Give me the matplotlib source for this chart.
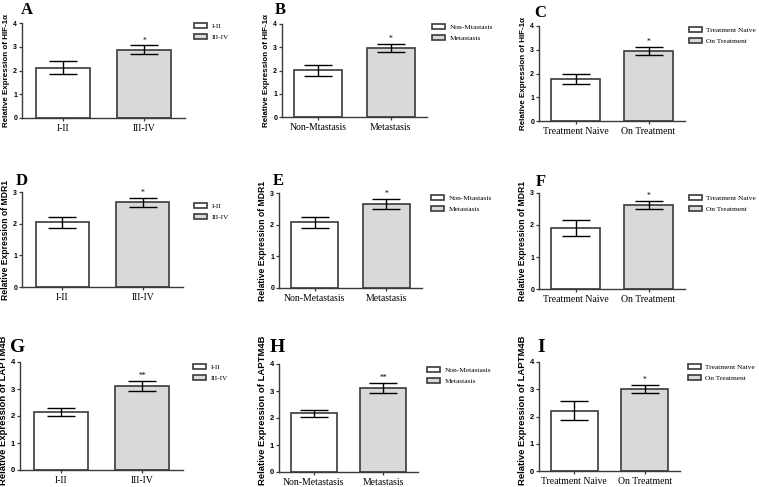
import matplotlib.pyplot as plt

W, H = 759, 487

letters = ["A", "B", "C", "D", "E", "F", "G", "H", "I"]
genes = ["HIF-1\u03b1", "HIF-1\u03b1", "HIF-1\u03b1",
         "MDR1", "MDR1", "MDR1",
         "LAPTM4B", "LAPTM4B", "LAPTM4B"]
xlabels = [["I-II", "III-IV"], ["Non-Mtastasis", "Metastasis"], ["Treatment Naive", "On Treatment"],
           ["I-II", "III-IV"], ["Non-Metastasis", "Metastasis"], ["Treatment Naive", "On Treatment"],
           ["I-II", "III-IV"], ["Non-Metastasis", "Metastasis"], ["Treatment Naive", "On Treatment"]]
leglabels = [["I-II", "III-IV"], ["Non-Mtastasis", "Metastasis"], ["Treatment Naive", "On Treatment"],
             ["I-II", "III-IV"], ["Non-Mtastasis", "Metastasis"], ["Treatment Naive", "On Treatment"],
             ["I-II", "III-IV"], ["Non-Metastasis", "Metastasis"], ["Treatment Naive", "On Treatment"]]
means = [[2.12, 2.88], [2.01, 2.98], [1.77, 2.96],
         [2.04, 2.68], [2.08, 2.65], [1.91, 2.63],
         [2.15, 3.11], [2.17, 3.10], [2.21, 3.01]]
errs = [[0.26, 0.18], [0.23, 0.17], [0.23, 0.16],
        [0.17, 0.14], [0.17, 0.15], [0.24, 0.13],
        [0.14, 0.18], [0.14, 0.19], [0.35, 0.16]]
stars = ["*", "*", "*", "*", "*", "*", "**", "**", "*"]
ymax = [4, 4, 4, 3, 3, 3, 4, 4, 4]

# axes boxes in pixels: x0, x1, ytop, ybottom
boxes = [(22, 185, 23, 118), (282, 427, 24, 117), (539, 685, 26, 121),
         (22, 183, 192, 287), (279, 422, 193, 288), (539, 685, 193, 289),
         (20, 183, 362, 470), (279, 418, 364, 472), (539, 680, 362, 471)]
# panel letter (x, baseline y) in pixels
letter_pos = [(21, 14), (275, 14), (534, 17),
              (16, 185), (273, 185), (536, 186),
              (10, 352), (270, 352), (537, 352)]
# legend top-left in pixels
leg_pos = [(194, 23), (432, 24), (689, 27),
           (194, 203), (431, 195), (689, 195),
           (193, 364), (427, 367), (688, 364)]

fig = plt.figure(figsize=(W / 100, H / 100), dpi=100)
edge = "#3a3a3a"
big_axes = []

for k in range(9):
    x0, x1, yt, yb = boxes[k]
    ax = fig.add_axes([x0 / W, 1 - yb / H, (x1 - x0) / W, (yb - yt) / H])
    bars = ax.bar([0, 1], means[k], width=0.66, color=["white", "#d9d9d9"],
                  edgecolor=edge, linewidth=1.2, zorder=2)
    ax.errorbar([0, 1], means[k], yerr=errs[k], fmt="none", ecolor="black",
                elinewidth=1.0, capsize=10, capthick=1.0, zorder=3)
    ax.text(1, means[k][1] + errs[k][1] + 0.03, stars[k], ha="center",
            va="bottom", fontsize=5.5, family="Liberation Serif")
    ax.set_xlim(-0.5, 1.5)
    ax.set_ylim(0, ymax[k])
    ax.set_yticks(range(ymax[k] + 1))
    ax.set_xticks([0, 1])
    big = k >= 6
    ax.set_xticklabels(xlabels[k], family="Liberation Serif", fontsize=7)
    for t in ax.get_yticklabels():
        t.set_family("Liberation Sans")
        t.set_fontweight("bold")
        t.set_fontsize(5.5 if big else 5)
    ax.tick_params(axis="y", length=2.5, width=0.9, pad=1, color=edge)
    ax.tick_params(axis="x", length=2, width=0.9, pad=2, color=edge)
    for s in ["top", "right"]:
        ax.spines[s].set_visible(False)
    for s in ["left", "bottom"]:
        ax.spines[s].set_color(edge)
        ax.spines[s].set_linewidth(1.0)
    ax.set_ylabel("Relative Expression of " + genes[k], family="Liberation Sans",
                  fontweight="bold", fontsize=6.8 if big else (6.2 if k >= 3 else 5.8),
                  labelpad=2)
    if big:
        big_axes.append(ax)
    lx, ly = leg_pos[k]
    ax.legend(bars, leglabels[k], loc="upper left",
              bbox_to_anchor=(lx / W, 1 - ly / H), bbox_transform=fig.transFigure,
              frameon=False, borderpad=0, borderaxespad=0,
              handlelength=1.75, handleheight=0.7, handletextpad=0.6,
              labelspacing=0.65, prop={"family": "Liberation Serif", "size": 5.3})
    tx, ty = letter_pos[k]
    fig.text(tx / W, 1 - ty / H, letters[k], family="Liberation Serif",
             fontweight="bold", fontsize=14 if big else 12, va="baseline")

# bottom row labels run long: push them up so they end at the figure edge
fig.canvas.draw()
r = fig.canvas.get_renderer()
for ax in big_axes:
    lab = ax.yaxis.label
    bb = lab.get_window_extent(r)
    pos = ax.get_window_extent(r)
    shift = (2 - bb.y0) if bb.y0 < 2 else 0
    lab.set_y(0.5 + shift / pos.height)

fig.savefig("out.png", dpi=100)
